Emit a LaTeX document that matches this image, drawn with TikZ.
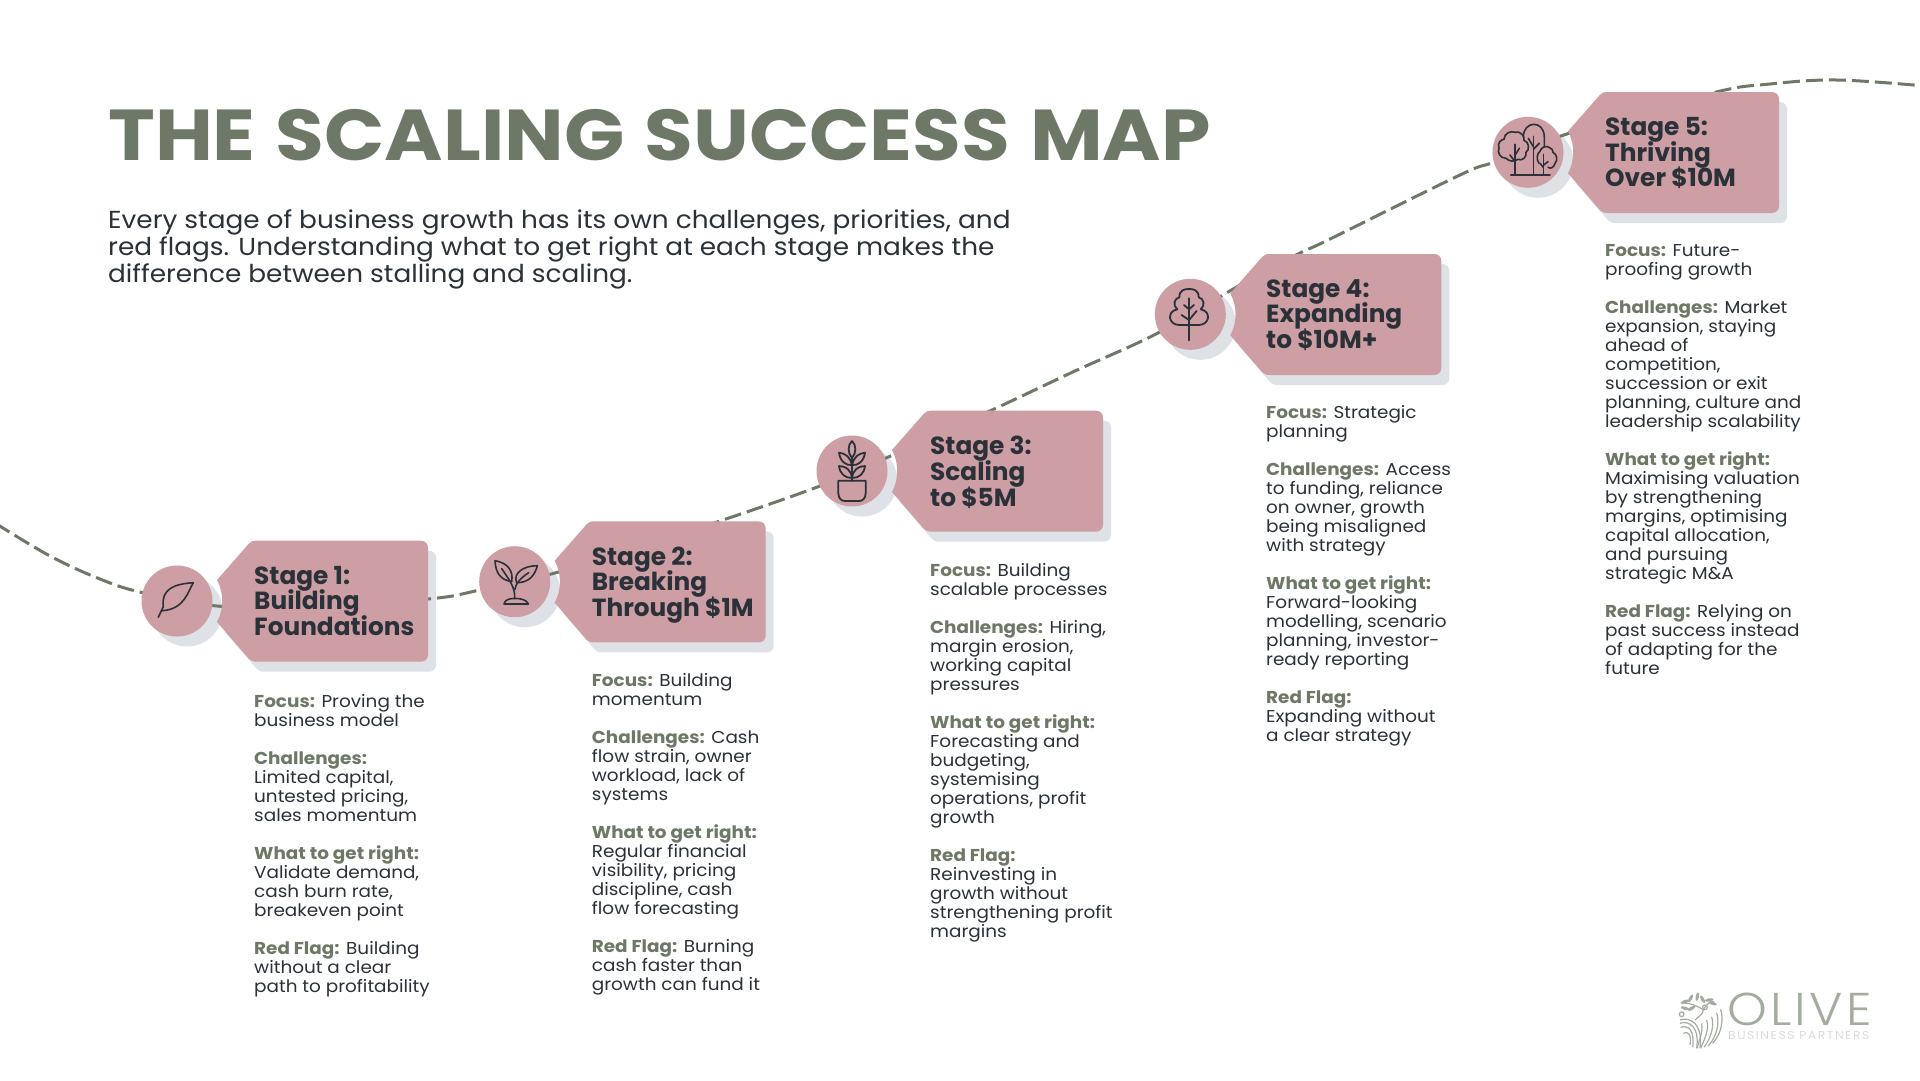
\documentclass[tikz,border=0pt]{standalone}
\usepackage{fontspec}
\setmainfont{Poppins}[FakeStretch=1.07]
\newfontfamily\tagfont{Poppins}
\newfontfamily\headfont{Poppins}[FakeStretch=1.1, WordSpace=1.2]
\newfontfamily\logofont{Poppins Light}[FakeStretch=1.1, LetterSpace=7]
\newfontfamily\logosmallfont{Poppins Light}[FakeStretch=1.1, LetterSpace=14]
\usepackage{tikz}

\definecolor{olivegreen}{HTML}{6E7866}
\definecolor{tagpink}{HTML}{CD9EA3}
\definecolor{softgrey}{HTML}{DEE1E6}
\definecolor{darkink}{HTML}{2A3138}
\definecolor{logogreen}{HTML}{A4ACA0}
\definecolor{logogrey}{HTML}{D3D5D1}

\newcommand{\stagelabel}[1]{\textbf{\textcolor{olivegreen}{#1}}}
\newcommand{\tightlines}{\lineskiplimit=-50pt\relax}

\tikzset{
	tagpath/.style={insert path={
		(80,-60.3) -- (244,-60.3) .. controls (248,-60.3) and (251,-57.3) .. (251,-53.3)
		-- (251,53.7) .. controls (251,57.7) and (248,60.7) .. (244,60.7)
		-- (80,60.7) .. controls (76,60.7) and (74.5,60) .. (72,58)
		-- (40,21) .. controls (47,8) and (47,-8) .. (40,-21)
		-- (72,-57.5) .. controls (74.5,-60) and (76,-60.3) .. (80,-60.3) -- cycle}},
	tagshape/.style={fill=tagpink, tagpath},
	tagshadow/.style={fill=softgrey, tagpath},
	iconshadow/.style={fill=softgrey},
	iconcircle/.style={circle, fill=tagpink, minimum size=71pt, inner sep=0pt},
	iconline/.style={draw=darkink, line width=1.6pt, line cap=round, line join=round},
	routeline/.style={draw=olivegreen, line width=3pt, dash pattern=on 17pt off 6pt},
	logoleaf/.style={fill=logogreen, draw=none},
	stagetitle/.style={anchor=north west, inner sep=0pt, align=left, text=darkink,
		font=\fontsize{24.8}{25.8}\tagfont\bfseries\tightlines},
	stagebody/.style={anchor=north west, inner sep=0pt, align=left, text=darkink,
		font=\fontsize{17.2}{19}\selectfont\tightlines},
}

\begin{document}
\begin{tikzpicture}[x=1pt, y=-1pt]
	\useasboundingbox (0,0) rectangle (1920,1080);
	\fill[white] (0,0) rectangle (1920,1080);

	% Heading and introduction
	\node[anchor=base west, inner sep=0pt, text=olivegreen, font=\fontsize{72}{72}\headfont\bfseries] (maintitle) at (108,160) {THE SCALING SUCCESS MAP};
	\node[anchor=north west, inner sep=0pt, align=left, text=darkink, font=\fontsize{24.6}{27}\selectfont] (intro) at (108,209) {Every stage of business growth has its own challenges, priorities, and\\red flags. Understanding what to get right at each stage makes the\\difference between stalling and scaling.};

	% Shadows sit under everything else
	\fill[shift={(185,611)}, tagshadow];
	\fill[shift={(522.7,591.7)}, tagshadow];
	\fill[shift={(860,481)}, tagshadow];
	\fill[shift={(1198.3,324.3)}, tagshadow];
	\fill[shift={(1536,162.3)}, tagshadow];
	\fill[iconshadow] (187,611) circle (35.5);
	\fill[iconshadow] (524.7,591.7) circle (35.5);
	\fill[iconshadow] (862,481) circle (35.5);
	\fill[iconshadow] (1200.3,324.3) circle (35.5);
	\fill[iconshadow] (1538,162.3) circle (35.5);

	% The growth route, running behind tags and circles
	\draw[routeline] plot[smooth, tension=0.6] coordinates {(-5,523) (50,556) (100,579) (142,592.5) (217,606) (300,607) (428,599) (480,590) (555,573) (640,547) (720,521) (820,486) (895,454) (992,410) (1075,371) (1158,333) (1235,288) (1298,254) (1328,240) (1460,175) (1495,161.7) (1570,133) (1712,93) (1770,84) (1837,80) (1925,86)};

	% Stage tags
	\fill[shift={(177,601)}, tagshape];
	\fill[shift={(514.7,581.7)}, tagshape];
	\fill[shift={(852,471)}, tagshape];
	\fill[shift={(1190.3,314.3)}, tagshape];
	\fill[shift={(1528,152.3)}, tagshape];

	% Icon circles
	\node[iconcircle] (stageone) at (177,601) {};
	\node[iconcircle] (stagetwo) at (514.7,581.7) {};
	\node[iconcircle] (stagethree) at (852,471) {};
	\node[iconcircle] (stagefour) at (1190.3,314.3) {};
	\node[iconcircle] (stagefive) at (1528,152.3) {};

	% Leaf
	\begin{scope}[shift={(177,601)}]
		\draw[iconline] (-18.7,16.3) -- (-13.7,5.7) .. controls (-16,-12) and (-3,-17) .. (16.3,-18.3) .. controls (11,-10) and (8,8) .. (-14.5,9.7);
	\end{scope}

	% Sprout
	\begin{scope}[shift={(514.7,581.7)}]
		\draw[iconline] (-19.7,-21) .. controls (-8,-19) and (-1,-12) .. (-3,0) .. controls (-14,-2) and (-19,-8) .. (-19.7,-21);
		\draw[iconline] (22.7,-16) .. controls (8,-16) and (-2,-8) .. (2,1) .. controls (14,1) and (20,-6) .. (22.7,-16);
		\draw[iconline] (0,17) .. controls (0,8) and (-1,4) .. (-13,-13);
		\draw[iconline] (0,8) .. controls (1,2) and (6,-4) .. (14,-9);
		\draw[iconline] (-10.7,22.3) .. controls (-10,18) and (-5,16.7) .. (0,16.7) .. controls (6,16.7) and (12,18) .. (13.7,22.3) -- cycle;
	\end{scope}

	% Potted plant
	\begin{scope}[shift={(852,471)}]
		\draw[iconline, line width=1.8pt] (0,-30) .. controls (-4.5,-26) and (-4.5,-18) .. (0,-13) .. controls (4.5,-18) and (4.5,-26) .. (0,-30);
		\draw[iconline, line width=1.8pt] (-13,-18.3) .. controls (-6,-17.5) and (-2,-14) .. (0,-6) .. controls (-6,-5) and (-12,-10) .. (-13,-18.3);
		\draw[iconline, line width=1.8pt] (13,-18.3) .. controls (6,-17.5) and (2,-14) .. (0,-6) .. controls (6,-5) and (12,-10) .. (13,-18.3);
		\draw[iconline, line width=1.8pt] (-13,-5) .. controls (-6,-5) and (-1,-1) .. (0,7) .. controls (-7,7) and (-12,3) .. (-13,-5);
		\draw[iconline, line width=1.8pt] (13,-5) .. controls (6,-5) and (1,-1) .. (0,7) .. controls (7,7) and (12,3) .. (13,-5);
		\draw[iconline, line width=1.8pt] (0,9.7) -- (0,-13);
		\draw[iconline, line width=1.8pt] (-13.7,9.7) -- (13.7,9.7) -- (13.7,22) .. controls (13.7,28) and (10,30) .. (7,30) -- (-7,30) .. controls (-10,30) and (-13.7,28) .. (-13.7,22) -- cycle;
	\end{scope}

	% Single tree
	\begin{scope}[shift={(1190.3,314.3)}]
		\draw[iconline, line width=1.8pt] (-11,10.7) .. controls (-22,10.7) and (-24,-3) .. (-13,-5) .. controls (-18,-9) and (-16,-16) .. (-11,-17) .. controls (-11,-24) and (-6,-25.5) .. (-1.3,-25.3) .. controls (3.4,-25.5) and (8.4,-24) .. (8.4,-17) .. controls (13.4,-16) and (15.4,-9) .. (10.4,-5) .. controls (21.4,-3) and (19.4,10.7) .. (8.4,10.7) -- cycle;
		\draw[iconline, line width=1.8pt] (-1.3,-16) -- (-1.3,26);
		\draw[iconline, line width=1.8pt] (-8.7,0.7) -- (-1.3,5.7) -- (6.3,-3.3);
		\draw[iconline, line width=1.8pt] (-6.3,-9.3) -- (-1.3,-5) -- (3.7,-9.3);
	\end{scope}

	% Group of trees
	\begin{scope}[shift={(1528,152.3)}]
		\draw[iconline] (-4.7,-4) -- (-4.7,-15) .. controls (-4.7,-24) and (1,-28) .. (5.8,-28) .. controls (11,-28) and (16.3,-24) .. (16.3,-15) -- (16.3,-6);
		\draw[iconline] (5.3,-16) -- (5.3,22.7);
		\draw[iconline] (0.3,-14) -- (5.3,-5.7);
		\draw[iconline] (11.3,-9) -- (5.3,-3);
		\draw[iconline, fill=tagpink] (-22,6) .. controls (-28,6) and (-31,0) .. (-29,-4) .. controls (-31,-9) and (-27,-13) .. (-24,-13) .. controls (-24,-19) and (-17,-22) .. (-13,-20) .. controls (-8,-22) and (-3,-16) .. (-4,-12) .. controls (1,-11) and (2,-2) .. (-2,0) .. controls (-1,5) and (-6,9) .. (-10,7) .. controls (-14,10) and (-19,9) .. (-22,6) -- cycle;
		\draw[iconline] (-13,-8) -- (-13,22.7);
		\draw[iconline] (-18,2.7) -- (-13,9.3);
		\draw[iconline] (-8.7,-4) -- (-13,3);
		\draw[iconline, fill=tagpink] (11,11) .. controls (8,7) and (9,1) .. (12,-1) .. controls (13,-5) and (18,-7) .. (21,-5) .. controls (24,-4) and (25,-2) .. (25,0) .. controls (29,2) and (30,8) .. (27,11) .. controls (26,15) and (23,17) .. (20,15);
		\draw[iconline] (15.3,2) -- (15.3,22.7);
		\draw[iconline] (12,11) -- (15.3,15);
		\draw[iconline] (20,9.3) -- (15.3,13);
		\draw[iconline] (-17.3,22.7) -- (22,22.7);
	\end{scope}

	% Stage names inside the tags
	\node[stagetitle] (onetitle) at (254,565.7) {Stage 1:\\Building\\Foundations};
	\node[stagetitle] (twotitle) at (591.7,546.4) {Stage 2:\\Breaking\\Through \$1M};
	\node[stagetitle] (threetitle) at (930,435.7) {Stage 3:\\Scaling\\to \$5M};
	\node[stagetitle] (fourtitle) at (1266,279) {Stage 4:\\Expanding\\to \$10M+};
	\node[stagetitle] (fivetitle) at (1605,117) {Stage 5:\\Thriving\\Over \$10M};

	% Notes under each tag
	\node[stagebody] (onenotes) at (254,693.7) {\stagelabel{Focus:} Proving the\\business model\\[19pt]\stagelabel{Challenges:}\\Limited capital,\\untested pricing,\\sales momentum\\[19pt]\stagelabel{What to get right:}\\Validate demand,\\cash burn rate,\\breakeven point\\[19pt]\stagelabel{Red Flag:} Building\\without a clear\\path to profitability};
	\node[stagebody] (twonotes) at (591.7,673.2) {\stagelabel{Focus:} Building\\momentum\\[19pt]\stagelabel{Challenges:} Cash\\flow strain, owner\\workload, lack of\\systems\\[19pt]\stagelabel{What to get right:}\\Regular financial\\visibility, pricing\\discipline, cash\\flow forecasting\\[19pt]\stagelabel{Red Flag:} Burning\\cash faster than\\growth can fund it};
	\node[stagebody] (threenotes) at (930,563.5) {\stagelabel{Focus:} Building\\scalable processes\\[19pt]\stagelabel{Challenges:} Hiring,\\margin erosion,\\working capital\\pressures\\[19pt]\stagelabel{What to get right:}\\Forecasting and\\budgeting,\\systemising\\operations, profit\\growth\\[19pt]\stagelabel{Red Flag:}\\Reinvesting in\\growth without\\strengthening profit\\margins};
	\node[stagebody] (fournotes) at (1266,404.8) {\stagelabel{Focus:} Strategic\\planning\\[19pt]\stagelabel{Challenges:} Access\\to funding, reliance\\on owner, growth\\being misaligned\\with strategy\\[19pt]\stagelabel{What to get right:}\\Forward-looking\\modelling, scenario\\planning, investor-\\ready reporting\\[19pt]\stagelabel{Red Flag:}\\Expanding without\\a clear strategy};
	\node[stagebody] (fivenotes) at (1605,243.8) {\stagelabel{Focus:} Future-\\proofing growth\\[19pt]\stagelabel{Challenges:} Market\\expansion, staying\\ahead of\\competition,\\succession or exit\\planning, culture and\\leadership scalability\\[19pt]\stagelabel{What to get right:}\\Maximising valuation\\by strengthening\\margins, optimising\\capital allocation,\\and pursuing\\strategic M\&A\\[19pt]\stagelabel{Red Flag:} Relying on\\past success instead\\of adapting for the\\future};

	% Logo
	\node[anchor=base west, inner sep=0pt, text depth=0pt, text=logogreen, font=\fontsize{46}{46}\logofont] (logoname) at (1727,1025) {OLIVE};
	\node[anchor=base west, inner sep=0pt, text height=8pt, text=logogrey, font=\fontsize{11.4}{11.4}\logosmallfont] (logotag) at (1728,1039.5) {BUSINESS PARTNERS};
	\begin{scope}[shift={(1660,970)}, scale=0.333, logogreen, line width=1.2pt]
		\draw (130,120) .. controls (128,135) and (115,140) .. (105,150);
		\draw (130,120) .. controls (110,105) and (90,100) .. (62,98);
		\draw (130,120) .. controls (140,100) and (150,95) .. (162,95);
		\foreach \leafx/\leafy/\leafrot in {75/95/20, 92/85/60, 112/80/80, 128/88/-60, 148/90/10, 158/100/-20, 75/115/-15, 95/115/30}
			\fill[logoleaf, rotate around={\leafrot:(\leafx,\leafy)}] (\leafx,\leafy) ellipse (13 and 5);
		\draw (65,133) circle (7);
		\draw (135,112) circle (7);
		\draw (60,160) .. controls (85,150) and (120,170) .. (110,235);
		\draw (62,172) .. controls (85,165) and (105,180) .. (98,232);
		\draw (70,190) .. controls (85,182) and (95,195) .. (90,225);
		\draw (60,150) .. controls (90,140) and (130,160) .. (120,235);
		\draw (125,160) .. controls (130,190) and (115,215) .. (112,235);
		\draw (140,150) .. controls (150,180) and (130,215) .. (122,235);
		\draw (155,140) .. controls (165,170) and (150,210) .. (132,232);
		\draw (170,128) .. controls (180,160) and (170,200) .. (145,228);
		\draw (182,118) .. controls (192,150) and (185,190) .. (158,220);
	\end{scope}
\end{tikzpicture}
\end{document}
